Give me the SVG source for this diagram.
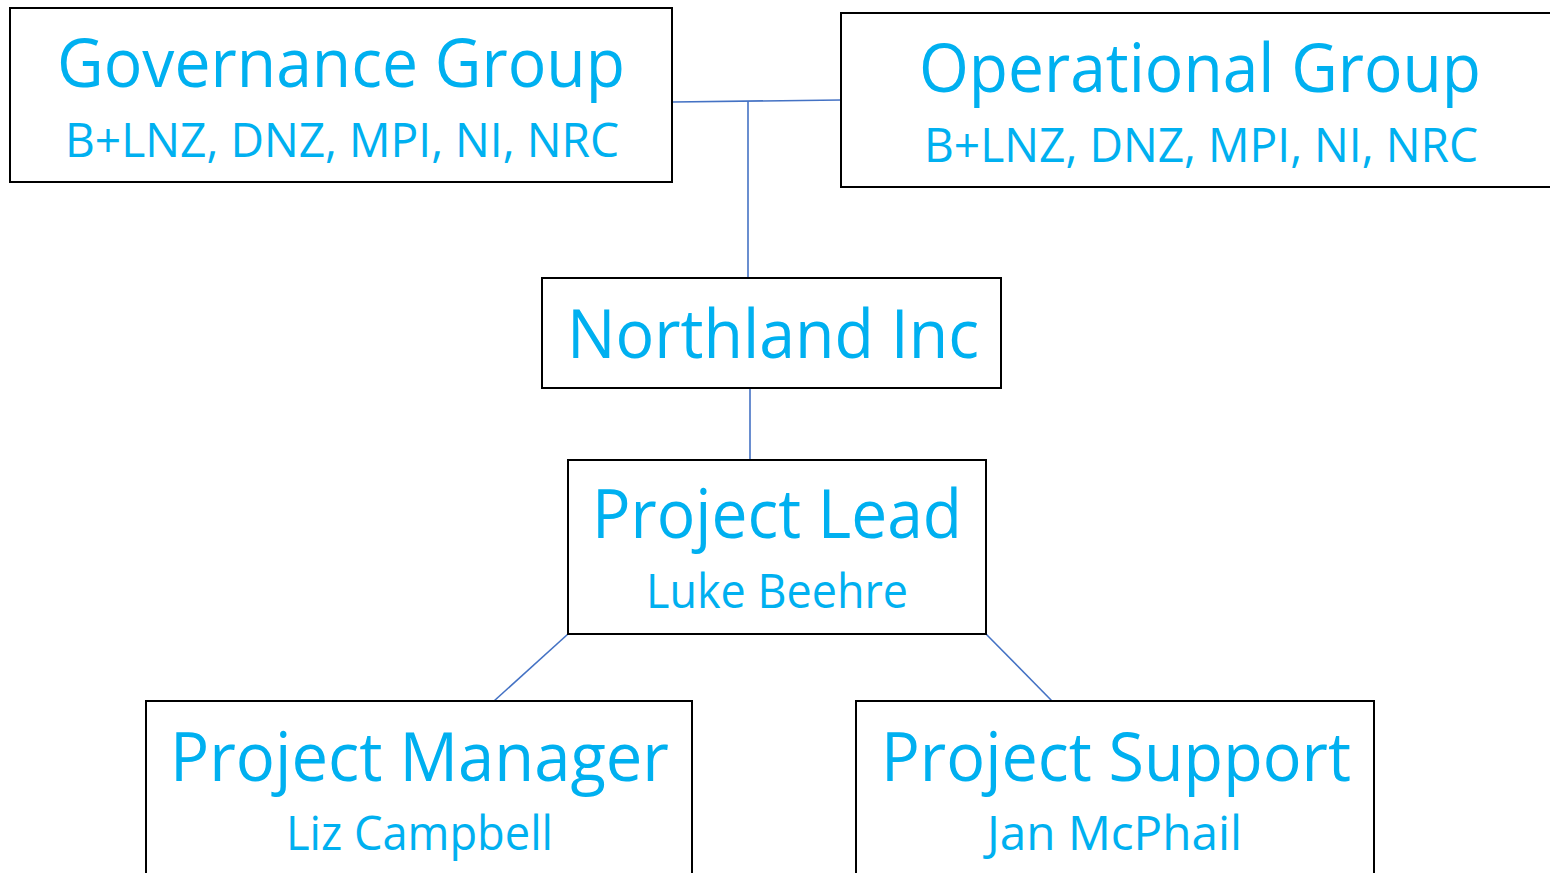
<svg xmlns="http://www.w3.org/2000/svg" width="1550" height="873" viewBox="0 0 1550 873">
<style>
.box{fill:#fff;stroke:#000;stroke-width:2}
.t{fill:#00B0F0;font-family:"Open Sans","Noto Sans","Liberation Sans",sans-serif}
.big{font-size:68px}
.sub{font-size:48px}
.c{stroke:#4472C4;stroke-width:1.6;fill:none}
</style>
<rect width="1550" height="873" fill="#fff"/>
<g id="connectors">
<line class="c" x1="673" y1="102" x2="841" y2="100"/>
<line class="c" x1="748" y1="101" x2="748" y2="278"/>
<line class="c" x1="750" y1="388" x2="750" y2="460"/>
<line class="c" x1="568" y1="634" x2="494" y2="701"/>
<line class="c" x1="986" y1="634" x2="1052" y2="701"/>
</g>
<g id="governance">
<rect class="box" x="10" y="8" width="662" height="174"/>
<text class="t big" x="57" y="87" textLength="568" lengthAdjust="spacingAndGlyphs">Governance Group</text>
<text class="t sub" x="65" y="157" textLength="554" lengthAdjust="spacingAndGlyphs">B+LNZ, DNZ, MPI, NI, NRC</text>
</g>
<g id="operational">
<rect class="box" x="841" y="13" width="720" height="174"/>
<text class="t big" x="919" y="92" textLength="562" lengthAdjust="spacingAndGlyphs">Operational Group</text>
<text class="t sub" x="924" y="162" textLength="554" lengthAdjust="spacingAndGlyphs">B+LNZ, DNZ, MPI, NI, NRC</text>
</g>
<g id="northland">
<rect class="box" x="542" y="278" width="459" height="110"/>
<text class="t big" x="567" y="358" textLength="412" lengthAdjust="spacingAndGlyphs">Northland Inc</text>
</g>
<g id="projectlead">
<rect class="box" x="568" y="460" width="418" height="174"/>
<text class="t big" x="592" y="538" textLength="370" lengthAdjust="spacingAndGlyphs">Project Lead</text>
<text class="t sub" x="646" y="608" textLength="262" lengthAdjust="spacingAndGlyphs">Luke Beehre</text>
</g>
<g id="projectmanager">
<rect class="box" x="146" y="701" width="546" height="190"/>
<text class="t big" x="170" y="781" textLength="499" lengthAdjust="spacingAndGlyphs">Project Manager</text>
<text class="t sub" x="286" y="850" textLength="267" lengthAdjust="spacingAndGlyphs">Liz Campbell</text>
</g>
<g id="projectsupport">
<rect class="box" x="856" y="701" width="518" height="190"/>
<text class="t big" x="881" y="781" textLength="470" lengthAdjust="spacingAndGlyphs">Project Support</text>
<text class="t sub" x="987" y="850" textLength="255" lengthAdjust="spacingAndGlyphs">Jan McPhail</text>
</g>
</svg>
